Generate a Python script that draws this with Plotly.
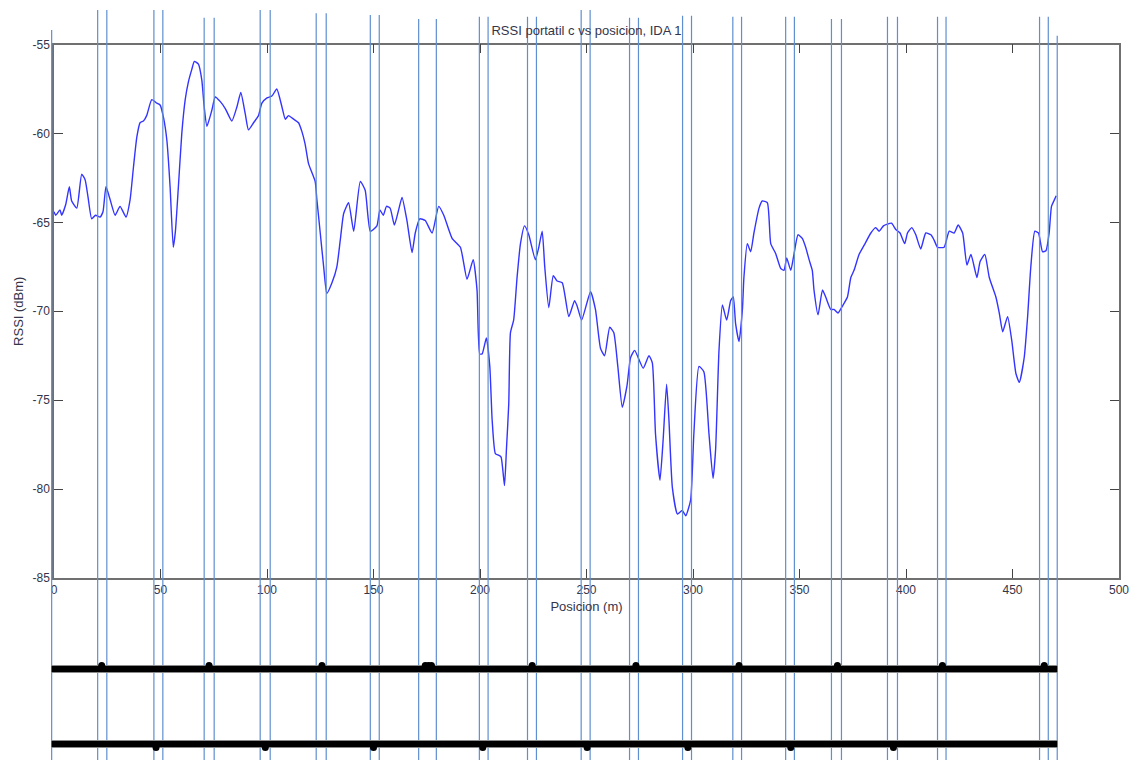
import plotly.graph_objects as go

# RSSI measured along the route (position in metres, level in dBm)
pos_m = [
    0.0, 0.8, 2.8, 3.6, 5.5, 7.2, 8.3, 10.7, 13.0, 14.6, 16.0, 17.7, 19.5, 21.6, 23.0,
    24.4, 26.3, 28.7, 31.0, 33.8, 35.7, 37.3, 38.9, 40.4, 42.0, 43.5, 45.9, 48.3, 49.8,
    51.4, 53.0, 54.5, 56.0, 57.0, 58.4, 60.0, 61.6, 63.1, 64.7, 65.9, 67.8, 69.4, 70.5,
    71.8, 74.1, 75.7, 78.0, 80.4, 83.5, 85.9, 87.7, 89.8, 91.3, 93.7, 96.0, 97.6, 100.0,
    102.3, 104.6, 107.0, 108.6, 110.1, 112.5, 114.8, 116.4, 117.9, 119.5, 122.6, 123.4,
    125.0, 126.6, 128.1, 130.5, 132.8, 134.4, 136.0, 138.3, 140.7, 143.8, 146.1, 148.5,
    151.6, 153.0, 154.6, 156.1, 157.8, 159.8, 161.8, 163.4, 165.7, 168.1, 169.6, 171.7,
    174.3, 177.5, 180.6, 183.0, 186.9, 190.8, 193.9, 196.8, 198.6, 199.9, 201.0, 203.0,
    204.6, 205.7, 207.2, 208.8, 209.9, 211.5, 212.4, 213.5, 214.3, 215.8, 217.4, 219.0,
    220.9, 222.9, 226.0, 227.6, 229.2, 230.4, 232.3, 234.4, 236.2, 238.6, 241.7, 244.4,
    245.6, 247.7, 251.9, 254.2, 256.6, 258.5, 260.9, 262.8, 264.7, 266.8, 269.0, 270.7,
    272.6, 276.6, 279.3, 280.9, 282.4, 284.5, 286.0, 287.6, 288.7, 290.3, 292.7, 294.9,
    296.6, 298.9, 300.4, 302.8, 305.1, 307.5, 309.4, 310.6, 312.2, 313.8, 315.8, 317.7,
    318.9, 320.0, 321.6, 323.2, 323.9, 325.5, 327.1, 328.6, 331.0, 332.5, 334.9, 336.5,
    338.8, 341.2, 342.7, 344.0, 345.9, 347.4, 349.3, 351.3, 352.9, 354.5, 356.0, 356.8,
    358.7, 360.8, 362.3, 364.7, 366.2, 368.1, 370.2, 372.5, 374.1, 375.6, 378.0, 380.3,
    383.5, 385.8, 387.4, 389.4, 391.3, 393.2, 395.2, 397.2, 399.4, 400.7, 402.7, 404.6,
    406.9, 409.3, 411.7, 413.2, 414.8, 417.9, 420.3, 422.6, 424.5, 426.6, 428.6, 430.5,
    433.3, 434.8, 437.0, 439.1, 442.2, 443.8, 445.4, 447.7, 449.6, 451.6, 453.2, 455.5,
    457.1, 458.6, 460.5, 462.2, 464.1, 465.7, 467.2, 468.3, 469.6, 470.5,
]
rssi_dbm = [
    -64.4, -64.6, -64.3, -64.6, -64.0, -63.0, -63.8, -64.2, -62.3, -62.6, -63.6, -64.8, -64.6, -64.7, -64.4,
    -63.0, -63.7, -64.6, -64.1, -64.7, -63.75, -61.9, -60.2, -59.4, -59.3, -59.0, -58.1, -58.3, -58.4,
    -59.1, -60.4, -63.0, -66.4, -65.5, -63.0, -60.0, -58.1, -57.1, -56.4, -55.95, -56.1, -57.0, -58.5,
    -59.6, -58.7, -57.95, -58.2, -58.6, -59.3, -58.5, -57.7, -58.9, -59.8, -59.4, -59.0, -58.3, -58.0,
    -57.9, -57.5, -58.5, -59.2, -59.0, -59.2, -59.4, -59.9, -60.6, -61.7, -62.7, -63.7,
    -65.6, -67.5, -69.0, -68.4, -67.5, -66.0, -64.5, -63.9, -65.5, -62.7, -63.2, -65.5,
    -65.2, -64.3, -64.6, -64.1, -64.2, -65.15, -64.3, -63.6, -64.9, -66.7, -65.6, -64.8,
    -64.9, -65.6, -64.1, -64.6, -65.9, -66.4, -68.2, -67.1, -68.8, -72.4, -72.4, -71.5,
    -73.1, -76.1, -78.0, -78.1, -78.2, -79.8, -77.8, -75.2, -71.2, -70.5, -68.1, -66.2,
    -65.2, -65.7, -67.1, -66.4, -65.5, -67.5, -69.8, -68.0, -68.3, -68.4, -70.3, -69.4,
    -69.7, -70.5, -68.9, -69.9, -72.1, -72.5, -70.9, -71.2, -73.1, -75.4, -74.2, -72.6,
    -72.2, -73.2, -72.5, -72.9, -76.9, -79.5, -77.2, -74.1, -76.1, -79.9, -81.4, -81.2,
    -81.5, -80.6, -76.9, -73.1, -73.4, -76.9, -79.4, -77.8, -72.2, -69.65, -70.5, -69.4,
    -69.2, -70.7, -71.7, -69.9, -68.1, -66.2, -66.65, -65.6, -64.2, -63.8, -63.9, -66.2,
    -66.75, -67.6, -67.7, -67.0, -67.7, -66.8, -65.7, -65.9, -66.4, -67.1, -67.7, -68.8,
    -70.2, -68.8, -69.2, -69.9, -69.9, -70.1, -69.7, -69.2, -68.1, -67.7, -66.8, -66.3,
    -65.6, -65.3, -65.5, -65.2, -65.1, -65.05, -65.4, -65.6, -66.2, -65.6, -65.3, -65.7,
    -66.5, -65.6, -65.7, -66.0, -66.4, -66.4, -65.5, -65.6, -65.15, -65.6, -67.4, -66.8,
    -68.1, -67.2, -66.8, -68.1, -69.2, -70.1, -71.15, -70.3, -71.6, -73.5, -74.0, -72.6,
    -70.3, -67.5, -65.5, -65.6, -66.65, -66.6, -65.6, -64.1, -63.75, -63.5,
]

# positions (m) of the reference marks drawn across the sheet
mark_lines_m = [
    -1.1, 20.5, 24.8, 46.9, 51.1, 70.5, 75.2, 96.8, 101.5, 123.1, 127.8, 148.5, 152.7,
    171.2, 179.5, 199.7, 203.8, 222.3, 226.5, 247.5, 251.7, 270.2, 274.4, 295.1, 299.3,
    318.7, 322.8, 343.5, 347.6, 365.0, 369.7, 391.3, 396.0, 414.8, 418.8, 462.7, 466.8, 471.0,
]
# events on the two tracks below the chart (m)
track_up_events_m = [22.4, 72.8, 125.8, 174.3, 175.8, 177.2, 224.5, 273.2, 321.6, 367.8, 417.1, 464.9]
track_down_events_m = [47.9, 99.2, 150.0, 201.3, 250.3, 297.6, 345.9, 394.1]
track_span_m = [-1.1, 471.0]

x_ticks = [0, 50, 100, 150, 200, 250, 300, 350, 400, 450, 500]
y_ticks = [-85, -80, -75, -70, -65, -60, -55]

# ---- layout geometry (pixels) ----
W, H = 1137, 760
PLOT_L, PLOT_R = 54, 1119
PLOT_T, PLOT_B = 44.5, 578
X_RANGE = [0, 500]
Y_RANGE = [-85, -55]

# upper ends of the reference marks, in pixels from the top of the sheet
mark_tops_px = [30, 10, 10, 10, 10, 17.7, 17.7, 10, 10, 13.3, 13.3, 15, 15,
                19, 19, 16.7, 16.7, 16.7, 16.7, 10, 10, 17.7, 17.7, 15.7, 15.7,
                16.7, 16.7, 16.7, 16.7, 19, 19, 16.7, 16.7, 16.7, 16.7, 16.7, 16.7, 35.7]
TRACK_UP_PX, TRACK_DOWN_PX = 669, 744
BUMP_OFFSET_PX = 3.5


def frac_from_top(px):
    return (H - px) / H


scale = (PLOT_R - PLOT_L) / (X_RANGE[1] - X_RANGE[0])
x2_range = [X_RANGE[0] - PLOT_L / scale, X_RANGE[0] + (W - PLOT_L) / scale]

FONT = "Arial, Liberation Sans, sans-serif"
TXT = "#34344a"
AXIS = "#707070"
MARK_BLUE = "#5f8fd0"

fig = go.Figure()

# RSSI curve
fig.add_trace(go.Scatter(
    x=pos_m, y=rssi_dbm, mode="lines",
    line=dict(color="#3434ff", width=1.4, shape="spline", smoothing=0.5),
    xaxis="x", yaxis="y", showlegend=False, hoverinfo="x+y",
))

# reference marks spanning the sheet
mx, my = [], []
for xm, top in zip(mark_lines_m, mark_tops_px):
    mx += [xm, xm, None]
    my += [frac_from_top(top), 0.0, None]
fig.add_trace(go.Scatter(
    x=mx, y=my, mode="lines", line=dict(color=MARK_BLUE, width=1.2),
    xaxis="x2", yaxis="y2", showlegend=False, hoverinfo="skip",
))

# event tracks
for level_px, events, sign in [(TRACK_UP_PX, track_up_events_m, -1),
                               (TRACK_DOWN_PX, track_down_events_m, 1)]:
    ylev = frac_from_top(level_px)
    fig.add_trace(go.Scatter(
        x=track_span_m, y=[ylev, ylev], mode="lines",
        line=dict(color="#8a8a8a", width=8),
        xaxis="x2", yaxis="y2", showlegend=False, hoverinfo="skip",
    ))
    fig.add_trace(go.Scatter(
        x=track_span_m, y=[ylev, ylev], mode="lines",
        line=dict(color="#000000", width=6),
        xaxis="x2", yaxis="y2", showlegend=False, hoverinfo="skip",
    ))
    yb = frac_from_top(level_px + sign * BUMP_OFFSET_PX)
    fig.add_trace(go.Scatter(
        x=events, y=[yb] * len(events), mode="markers",
        marker=dict(symbol="circle", size=7, color="#000000"),
        xaxis="x2", yaxis="y2", showlegend=False, hoverinfo="x",
    ))

axis_common = dict(
    showline=True, linecolor=AXIS, linewidth=1.5, mirror="ticks",
    ticks="inside", ticklen=9, tickcolor="#444444", tickwidth=1,
    showgrid=False, zeroline=False, automargin=False,
    tickfont=dict(family=FONT, size=12, color=TXT),
)

fig.update_layout(
    template="none",
    width=W, height=H,
    margin=dict(l=0, r=0, t=0, b=0, pad=0, autoexpand=False),
    paper_bgcolor="white", plot_bgcolor="rgba(0,0,0,0)",
    showlegend=False,
    title=dict(text="RSSI portatil c vs posicion, IDA 1",
               x=(PLOT_L + PLOT_R) / 2 / W, xanchor="center",
               y=frac_from_top(30), yanchor="middle",
               font=dict(family=FONT, size=13, color=TXT)),
    xaxis=dict(domain=[PLOT_L / W, PLOT_R / W], range=X_RANGE, anchor="y",
               tickmode="array", tickvals=x_ticks,
               ticktext=[str(v) for v in x_ticks],
               title=dict(text="Posicion (m)", standoff=6,
                          font=dict(family=FONT, size=13, color=TXT)),
               **axis_common),
    yaxis=dict(domain=[frac_from_top(PLOT_B), frac_from_top(PLOT_T)], range=Y_RANGE,
               anchor="x", tickmode="array", tickvals=y_ticks,
               ticktext=[str(v) for v in y_ticks],
               title=dict(text="RSSI (dBm)", standoff=6,
                          font=dict(family=FONT, size=13, color=TXT)),
               **axis_common),
    xaxis2=dict(domain=[0, 1], range=x2_range, anchor="y2", visible=False,
                fixedrange=True, automargin=False),
    yaxis2=dict(domain=[0, 1], range=[0, 1], anchor="x2", visible=False,
                fixedrange=True, automargin=False),
)

fig.write_html("out.html")
